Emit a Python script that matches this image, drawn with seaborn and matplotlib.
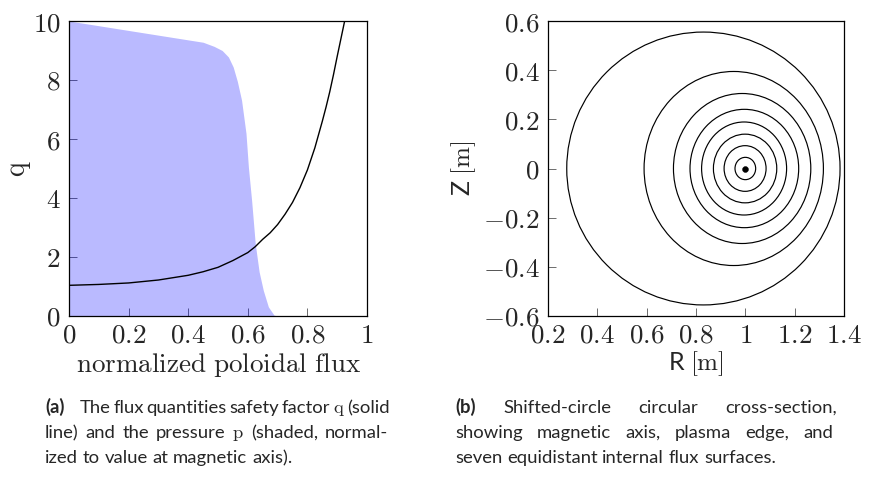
import numpy as np
import pandas as pd
import matplotlib
matplotlib.use("Agg")
import matplotlib.pyplot as plt
from matplotlib.patches import Ellipse
import seaborn as sns

# ---------------- data ----------------
# (a) safety factor q vs normalized poloidal flux
q_flux = [0.0, 0.1, 0.2, 0.3, 0.4, 0.45, 0.5, 0.55, 0.6, 0.625, 0.65, 0.675,
          0.7, 0.725, 0.75, 0.775, 0.8, 0.825, 0.85, 0.8625, 0.875, 0.8875,
          0.9, 0.9125, 0.925, 0.93]
q_vals = [1.04, 1.07, 1.12, 1.22, 1.38, 1.50, 1.65, 1.88, 2.15, 2.35, 2.6, 2.82,
          3.1, 3.45, 3.85, 4.35, 4.95, 5.7, 6.6, 7.08, 7.6, 8.18,
          8.8, 9.4, 10.0, 10.4]
# pressure (normalized, scaled to axis value 10)
p_flux = [0.0, 0.1, 0.2, 0.3, 0.4, 0.45, 0.487, 0.514, 0.535, 0.551, 0.565,
          0.579, 0.594, 0.602, 0.613, 0.625, 0.638, 0.652, 0.669, 0.688, 0.70,
          1.0]
p_vals = [10.0, 9.84, 9.68, 9.52, 9.36, 9.28, 9.14, 9.0, 8.78, 8.44, 7.95,
          7.32, 6.19, 5.05, 3.9, 2.45, 1.5, 0.87, 0.31, 0.03, 0.0,
          0.0]

# (b) flux surfaces: centre R, half-width, half-height  (plasma edge first)
surf_R = [0.830, 0.953, 0.987, 0.996, 0.995, 0.999, 0.999, 1.000]
surf_a = [0.554, 0.3635, 0.2784, 0.2203, 0.1723, 0.1284, 0.0851, 0.0419]
surf_b = [0.555, 0.3947, 0.3051, 0.2407, 0.1892, 0.1397, 0.0929, 0.0454]
axis_R = [1.0]
axis_Z = [0.0]

xticks_a = [0, 0.2, 0.4, 0.6, 0.8, 1]
xlabels_a = ["0", "0.2", "0.4", "0.6", "0.8", "1"]
yticks_a = [0, 2, 4, 6, 8, 10]
ylabels_a = ["0", "2", "4", "6", "8", "10"]
xticks_b = [0.2, 0.4, 0.6, 0.8, 1.0, 1.2, 1.4]
xlabels_b = ["0.2", "0.4", "0.6", "0.8", "1", "1.2", "1.4"]
yticks_b = [-0.6, -0.4, -0.2, 0.0, 0.2, 0.4, 0.6]
ylabels_b = ["-0.6", "-0.4", "-0.2", "0", "0.2", "0.4", "0.6"]

caption_a = [r"The flux quantities safety factor $\mathrm{q}$ (solid",
             r"line) and the pressure $\mathrm{p}$ (shaded, normal-",
             "ized to value at magnetic axis)."]
caption_b = ["Shifted-circle circular cross-section,",
             "showing magnetic axis, plasma edge, and",
             "seven equidistant internal flux surfaces."]

# ---------------- style ----------------
sns.set_theme(style="white")
plt.rcParams["mathtext.fontset"] = "cm"
CAP_FONT = ["Lato", "DejaVu Sans"]
plt.rcParams["font.family"] = CAP_FONT
plt.rcParams["axes.edgecolor"] = "black"
plt.rcParams["axes.linewidth"] = 0.9

W, H = 874, 479
fig = plt.figure(figsize=(W / 100, H / 100), dpi=100)


def rect(x0, y0, x1, y1):
    return [x0 / W, 1 - y1 / H, (x1 - x0) / W, (y1 - y0) / H]


ax1 = fig.add_axes(rect(69, 21, 367, 316))
ax2 = fig.add_axes(rect(548, 21, 844, 316))

TICK_FS = 19.5


def style_axes(ax, xt, xl, yt, yl):
    ax.set_xticks(xt)
    ax.set_xticklabels([f"${s}$" for s in xl], fontsize=TICK_FS)
    ax.set_yticks(yt)
    ax.set_yticklabels([f"${s}$" for s in yl], fontsize=TICK_FS)
    ax.tick_params(axis="both", which="major", direction="in", length=5.5,
                   width=0.5, color="#333333", bottom=True, left=True,
                   top=False, right=False)
    ax.tick_params(axis="x", pad=5)
    ax.tick_params(axis="y", pad=6)
    for s in ax.spines.values():
        s.set_visible(True)
        s.set_color("black")
        s.set_linewidth(0.9)


# ---------------- panel (a) ----------------
dfp = pd.DataFrame({"flux": p_flux, "p": p_vals})
dfq = pd.DataFrame({"flux": q_flux, "q": q_vals})
ax1.set_axisbelow(True)
ax1.fill_between(dfp["flux"], 0, dfp["p"], color="#0000ff", alpha=0.27,
                 linewidth=0, zorder=1)
sns.lineplot(data=dfq, x="flux", y="q", ax=ax1, color="black", linewidth=1.0,
             zorder=3)
ax1.set_xlim(0, 1)
ax1.set_ylim(0, 10)
style_axes(ax1, xticks_a, xlabels_a, yticks_a, ylabels_a)
ax1.set_xlabel(r"$\mathrm{normalized\ poloidal\ flux}$", fontsize=19.5)
ax1.set_ylabel(r"$\mathrm{q}$", fontsize=20)
ax1.xaxis.set_label_coords(0.503, -0.118)
ax1.yaxis.set_label_coords(-0.12, 0.5)

# ---------------- panel (b) ----------------
for R, a, b in zip(surf_R, surf_a, surf_b):
    ax2.add_patch(Ellipse((R, 0.0), 2 * a, 2 * b, fill=False,
                          edgecolor="black", linewidth=0.85, zorder=2))
sns.scatterplot(x=axis_R, y=axis_Z, ax=ax2, color="black", s=18,
                edgecolor="black", zorder=3)
ax2.set_xlim(0.2, 1.4)
ax2.set_ylim(-0.6, 0.6)
style_axes(ax2, xticks_b, xlabels_b, yticks_b, ylabels_b)
ax2.set_xlabel(r"R $[\mathrm{m}]$", fontsize=18)
ax2.set_ylabel(r"Z $[\mathrm{m}]$", fontsize=18)
ax2.xaxis.set_label_coords(0.5, -0.112)
ax2.yaxis.set_label_coords(-0.235, 0.5)

# ---------------- captions ----------------
renderer = fig.canvas.get_renderer()


def fx(px):
    return px / W


def fy(py):
    return 1 - py / H


def measure(s, fs, bold=False):
    t = fig.text(0, 0, s, fontsize=fs, family=CAP_FONT,
                 fontweight="bold" if bold else "normal")
    w = t.get_window_extent(renderer).width
    t.remove()
    return w


def space_width(fs):
    return measure("a a", fs) - measure("aa", fs)


FS = 13.3


def place_words(x0, x1, y, words, fs, justify=True, bold=False):
    """Lay out words on one line in figure pixels, optionally justified."""
    widths = [measure(w, fs, bold) for w in words]
    sp = space_width(fs)
    gap = sp
    if justify and len(words) > 1:
        gap = max(0.55 * sp, (x1 - x0 - sum(widths)) / (len(words) - 1))
    x = x0
    for w, wd in zip(words, widths):
        fig.text(fx(x), fy(y), w, fontsize=fs, va="baseline", ha="left",
                 family=CAP_FONT, fontweight="bold" if bold else "normal")
        x += wd + gap


place_words(45, 80, 413, ["(a)"], FS, justify=False, bold=True)
place_words(80, 388, 413, caption_a[0].split(" "), FS)
place_words(45, 388, 438, caption_a[1].split(" "), FS)
place_words(45, 388, 463, caption_a[2].split(" "), FS, justify=False)

place_words(455, 490, 413, ["(b)"], FS, justify=False, bold=True)
place_words(503, 837, 413, caption_b[0].split(" "), FS)
place_words(455, 833, 438, caption_b[1].split(" "), FS)
place_words(455, 837, 463, caption_b[2].split(" "), FS, justify=False)

fig.savefig("out.png", dpi=100)
